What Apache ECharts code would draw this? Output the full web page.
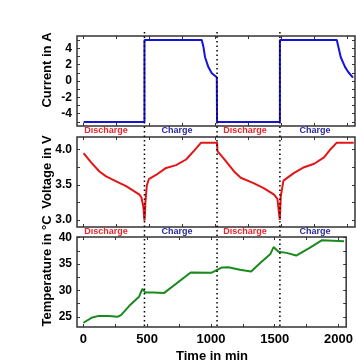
<!DOCTYPE html>
<html><head><meta charset="utf-8">
<script src="https://cdn.jsdelivr.net/npm/echarts@6/dist/echarts.min.js"></script>
<style>html,body{margin:0;padding:0;background:#fff}#c{width:356px;height:364px}</style>
</head><body><div id="c"></div>
<script>
// ---- data ----
const currentTime = [0, 462, 462, 897, 903, 910, 922, 947, 973, 1011, 1013, 1490, 1490, 1922, 1928, 1934, 1952, 1985, 2010, 2045];
const currentValues = [-5, -5, 5, 5, 4.8, 4.15, 2.9, 1.7, 0.95, 0.45, -5, -5, 5, 5, 4.8, 4.15, 2.9, 1.7, 1.07, 0.4];

const voltageTime = [0, 57, 120, 171, 247, 323, 424, 439, 454, 462, 466, 469, 480, 495, 550, 626, 702, 778, 841, 892, 1013, 1016, 1066, 1142, 1193, 1294, 1370, 1446, 1471, 1480, 1489, 1497, 1517, 1598, 1674, 1750, 1825, 1876, 1922, 2050];
const voltageValues = [3.95, 3.82, 3.69, 3.62, 3.55, 3.48, 3.36, 3.32, 3.18, 2.99, 3.1, 3.25, 3.49, 3.58, 3.64, 3.74, 3.78, 3.86, 3.99, 4.10, 4.10, 3.98, 3.87, 3.69, 3.60, 3.52, 3.45, 3.36, 3.30, 3.15, 3.0, 3.34, 3.56, 3.67, 3.75, 3.80, 3.89, 4.01, 4.10, 4.10];

const tempTime = [0, 70, 120, 196, 272, 297, 360, 436, 462, 487, 550, 631, 841, 1006, 1087, 1137, 1226, 1315, 1390, 1466, 1491, 1529, 1593, 1668, 1770, 1871, 2043];
const tempValues = [23.9, 24.9, 25.2, 25.2, 25.05, 25.4, 27.1, 28.8, 30.3, 29.6, 29.6, 29.5, 33.4, 33.35, 34.36, 34.4, 33.9, 33.6, 35.3, 36.9, 38.2, 37.3, 37.1, 36.6, 38.0, 39.5, 39.3];

const xTickLabels = [0, 500, 1000, 1500, 2000];
const xTicks = [0, 250, 500, 750, 1000, 1250, 1500, 1750, 2000];
const currentTickLabels = [-4, -2, 0, 2, 4];
const currentTicks = [-5, -4, -3, -2, -1, 0, 1, 2, 3, 4, 5];
const voltageTickLabels = [3.0, 3.5, 4.0];
const voltageTicks = [3.0, 3.25, 3.5, 3.75, 4.0];
const tempTickLabels = [25, 30, 35, 40];
const tempTicks = [25, 27.5, 30, 32.5, 35, 37.5, 40];
const phaseBoundaries = [462, 1013, 1490];
const phaseLabels = ['Discharge', 'Charge', 'Discharge', 'Charge'];
const axisTitles = ['Current in A', 'Voltage in V', 'Temperature in °C', 'Time in min'];

// ---- chart ----
const pair = (t, v) => t.map((x, i) => [x, v[i]]);
const FONT = '"Liberation Sans", Arial, sans-serif';
const grids = [
  {left: 77, right: 1, top: 36, height: 90},
  {left: 77, right: 1, top: 137, height: 90},
  {left: 77, right: 1, top: 237, height: 90}
].map(g => Object.assign(g, {show: true, borderColor: '#333', borderWidth: 1.5, backgroundColor: 'transparent'}));

const xRange = {min: -50, max: 2060};
function xAx(gi, pos, labels) {
  return Object.assign({
    type: 'value', gridIndex: gi, position: pos, ...xRange,
    axisLine: {show: false, onZero: false}, splitLine: {show: false},
    axisTick: {show: true, inside: true, length: 3, customValues: xTicks, lineStyle: {color: '#333', width: 1}},
    axisLabel: labels ? {show: true, customValues: xTickLabels, margin: 6, color: '#000', fontWeight: 'bold', fontSize: 13, fontFamily: FONT, formatter: v => String(v)}
                      : {show: false}
  });
}
function yAx(gi, pos, min, max, ticks, labels, fmt) {
  return {
    type: 'value', gridIndex: gi, position: pos, min, max,
    axisLine: {show: false, onZero: false}, splitLine: {show: false},
    axisTick: {show: true, inside: true, length: 3, customValues: ticks, lineStyle: {color: '#333', width: 1}},
    axisLabel: labels ? {show: true, customValues: labels, margin: 5, color: '#000', fontWeight: 'bold', fontSize: 12, fontFamily: FONT, formatter: fmt}
                      : {show: false}
  };
}
const xAxes = [
  xAx(0, 'bottom', false), xAx(1, 'bottom', false), xAx(2, 'bottom', true),
  xAx(0, 'top', false), xAx(1, 'top', false), xAx(2, 'top', false)
];
const yAxes = [
  yAx(0, 'left', -5.5, 5.5, currentTicks, currentTickLabels, v => String(v)),
  yAx(1, 'left', 2.9, 4.18, voltageTicks, voltageTickLabels, v => Number(v).toFixed(1)),
  yAx(2, 'left', 23.1, 40.1, tempTicks, tempTickLabels, v => String(v)),
  yAx(0, 'right', -5.5, 5.5, currentTicks, null),
  yAx(1, 'right', 2.9, 4.18, voltageTicks, null),
  yAx(2, 'right', 23.1, 40.1, tempTicks, null)
];

const chart = echarts.init(document.getElementById('c'), null, {renderer: 'canvas'});
chart.setOption({
  animation: false,
  backgroundColor: '#fff',
  grid: grids,
  xAxis: xAxes,
  yAxis: yAxes,
  series: [
    {type: 'line', xAxisIndex: 0, yAxisIndex: 0, data: pair(currentTime, currentValues), showSymbol: false, lineStyle: {color: '#1414d8', width: 2}, z: 3},
    {type: 'line', xAxisIndex: 1, yAxisIndex: 1, data: pair(voltageTime, voltageValues), showSymbol: false, lineStyle: {color: '#e21616', width: 2}, z: 3},
    {type: 'line', xAxisIndex: 2, yAxisIndex: 2, data: pair(tempTime, tempValues), showSymbol: false, lineStyle: {color: '#1a8a1e', width: 2}, z: 3}
  ]
});

// annotations: dotted phase boundaries, phase labels, axis titles
const g = [];
phaseBoundaries.forEach(t => {
  const x = chart.convertToPixel({xAxisIndex: 0}, t);
  g.push({type: 'line', shape: {x1: x, y1: 32, x2: x, y2: 327}, style: {stroke: '#000', lineWidth: 1.5, lineDash: [1.5, 3]}, z: 10});
});
const labelX = [106, 177, 245, 315];
const labelRowY = [131, 232];
labelRowY.forEach(y => {
  phaseLabels.forEach((txt, i) => {
    g.push({type: 'text', x: labelX[i], y: y, z: 10, style: {
      text: txt, align: 'center', verticalAlign: 'middle',
      font: 'bold 9px ' + FONT, fill: txt === 'Charge' ? '#2a2a9c' : '#e8262e'}});
  });
});
const titleY = [70, 172, 271];
titleY.forEach((y, i) => {
  g.push({type: 'text', x: 47, y: y, rotation: Math.PI / 2, z: 10, style: {
    text: axisTitles[i], align: 'center', verticalAlign: 'middle', font: 'bold 13px ' + FONT, fill: '#000'}});
});
g.push({type: 'text', x: 212, y: 356, z: 10, style: {
  text: axisTitles[3], align: 'center', verticalAlign: 'middle', font: 'bold 13px ' + FONT, fill: '#000'}});
chart.setOption({graphic: g});
</script>
</body></html>
